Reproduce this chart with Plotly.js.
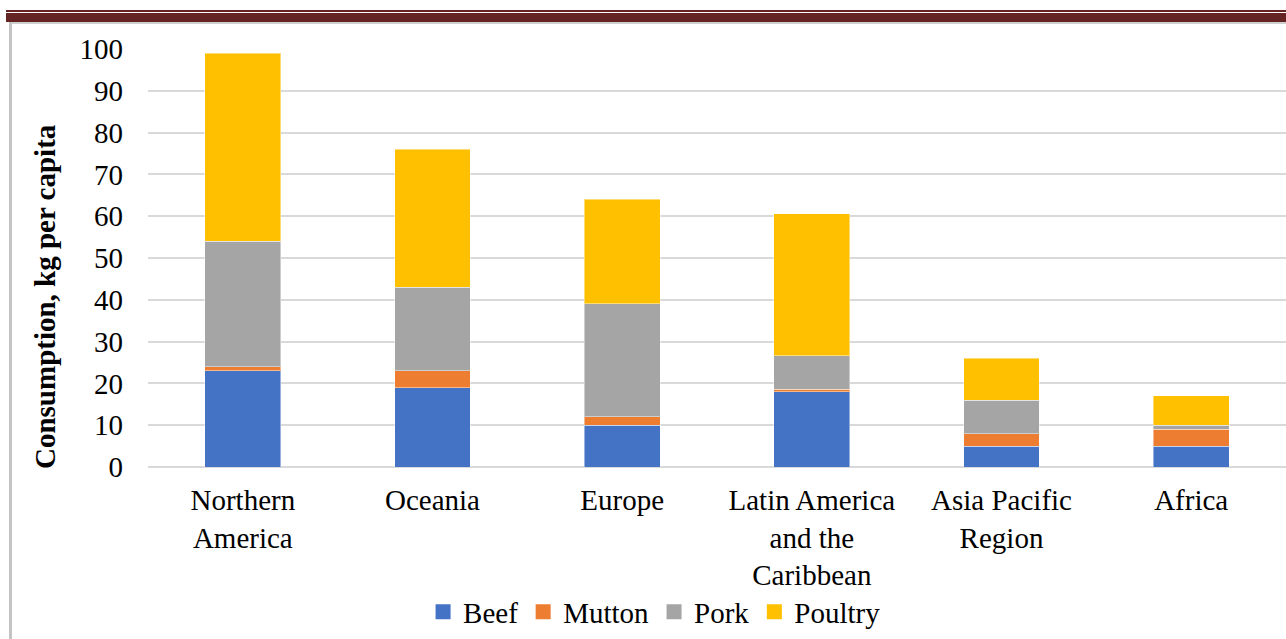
<!DOCTYPE html>
<html>
<head>
<meta charset="utf-8">
<script src="https://cdn.plot.ly/plotly-3.0.1.min.js"></script>
<style>
  html, body { margin: 0; padding: 0; background: #fff; }
  #chart { width: 1286px; height: 639px; }
  .deco { position: absolute; pointer-events: none; }
</style>
</head>
<body>
<div id="chart"></div>
<div class="deco" style="left:6px; top:10px; width:1280px; height:2px; background:#632423;"></div>
<div class="deco" style="left:6px; top:13px; width:1280px; height:9px; background:#632423;"></div>
<div class="deco" style="left:9px; top:22px; width:1277px; height:2px; background:#cfcfcf;"></div>
<div class="deco" style="left:9px; top:22px; width:3px; height:617px; background:#c4c4c4;"></div>
<script>
const categories = ["Northern<br>America", "Oceania", "Europe", "Latin America<br>and the<br>Caribbean", "Asia Pacific<br>Region", "Africa"];
const beef    = [23, 19, 10, 18, 5, 5];
const mutton  = [1, 4, 2, 0.6, 3, 4];
const pork    = [30, 20, 27, 8, 8, 1];
const poultry = [45, 33, 25, 34, 10, 7];
const yTicks  = [0, 10, 20, 30, 40, 50, 60, 70, 80, 90, 100];
const yTitle  = "Consumption, kg per capita";

const serif = "Liberation Serif";
const series = [
  {name: "Beef", y: beef, color: "#4472C4"},
  {name: "Mutton", y: mutton, color: "#ED7D31"},
  {name: "Pork", y: pork, color: "#A5A5A5"},
  {name: "Poultry", y: poultry, color: "#FFC000"}
];
const bars = series.map(s => ({
  type: "bar",
  name: s.name,
  legendgroup: s.name,
  showlegend: false,
  x: categories,
  y: s.y,
  marker: {color: s.color, line: {color: "rgba(255,255,255,0.45)", width: 1}},
  hoverinfo: "x+y+name"
}));
const legendItems = series.map(s => ({
  type: "scatter",
  mode: "markers",
  name: s.name,
  legendgroup: s.name,
  x: [null], y: [null],
  marker: {symbol: "square", size: 15, color: s.color, line: {width: 0}},
  hoverinfo: "skip"
}));

const layout = {
  width: 1286, height: 639,
  margin: {l: 148, r: 0, t: 49, b: 172},
  paper_bgcolor: "#fff", plot_bgcolor: "#fff",
  barmode: "stack",
  bargap: 0.6,
  font: {family: serif, size: 29, color: "#000"},
  xaxis: {
    type: "category",
    categoryarray: categories,
    tickfont: {family: serif, size: 29, color: "#000"},
    ticks: "outside", ticklen: 7, tickcolor: "rgba(0,0,0,0)",
    showline: false, showgrid: false, zeroline: false,
    fixedrange: true
  },
  yaxis: {
    range: [0, 100],
    tickvals: yTicks,
    ticktext: yTicks.map(String),
    tickfont: {family: serif, size: 29, color: "#000"},
    ticklabelstandoff: 24,
    gridcolor: "#d9d9d9", gridwidth: 1.5,
    zeroline: true, zerolinecolor: "#d9d9d9", zerolinewidth: 1.5,
    showline: false,
    fixedrange: true
  },
  annotations: [{
    text: "<b>" + yTitle + "</b>",
    textangle: -90,
    xref: "paper", yref: "paper",
    x: (45 - 148) / 1138, y: (467 - 297) / 418,
    xanchor: "center", yanchor: "middle",
    showarrow: false,
    font: {family: serif, size: 29, color: "#000"}
  }],
  legend: {
    orientation: "h",
    xref: "container", yref: "container",
    x: 0.509, xanchor: "center",
    y: (639 - 612) / 639, yanchor: "middle",
    font: {family: serif, size: 29, color: "#000"},
    traceorder: "normal",
    itemwidth: 30,
    bgcolor: "rgba(0,0,0,0)"
  },
  showlegend: true
};

function draw() {
  Plotly.newPlot("chart", bars.concat(legendItems), layout, {displayModeBar: false});
}
if (document.fonts && document.fonts.load) {
  Promise.all([
    document.fonts.load("29px 'Liberation Serif'"),
    document.fonts.load("bold 29px 'Liberation Serif'")
  ]).then(draw, draw);
} else {
  draw();
}
</script>
</body>
</html>
